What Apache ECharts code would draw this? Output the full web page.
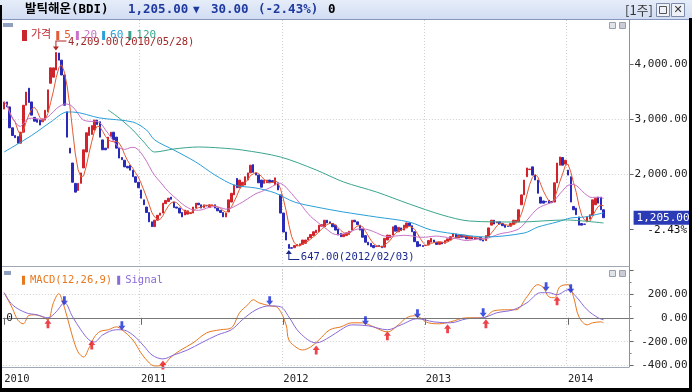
<!DOCTYPE html>
<html><head><meta charset="utf-8">
<script src="https://cdn.jsdelivr.net/npm/echarts@6/dist/echarts.min.js"></script>
<style>html,body{margin:0;padding:0;background:#fff}#c{width:692px;height:392px}</style>
</head><body><div id="c"></div>
<script>
// ---------- data ----------
const firstWeek = '2010-01-22';
const weekCount = 229;
const openPrices = [
3180,3310,3220,2840,2700,2680,2560,2760,3250,3560, 3310,3030,2990,2980,2950,2980,3130,3650,3760,3890,
4200,4070,3800,3130,2470,2200,1830,1700,1830,2110, 2400,2700,2720,2800,2980,2950,2620,2470,2470,2680,
2760,2670,2470,2300,2250,2140,2160,2070,1950,1850, 1710,1530,1400,1300,1130,1043,1160,1250,1290,1460,
1500,1580,1490,1400,1380,1300,1255,1270,1280,1290, 1380,1470,1440,1390,1430,1390,1420,1440,1380,1340,
1300,1220,1310,1490,1620,1920,1750,1790,1800,1890, 2020,2170,2020,1980,1890,1830,1840,1890,1880,1800,
1840,1620,1290,945,720,660,660,690,700,720, 740,800,840,880,930,950,1050,1040,1160,1130,
1100,1070,1000,920,860,880,900,980,1160,1130, 1070,1000,880,760,740,700,680,700,690,670,
800,840,890,1060,950,1020,980,1020,1110,1060, 950,770,720,700,698,710,760,800,760,720,
760,740,780,800,860,910,840,890,850,880, 820,860,810,830,850,800,790,860,1070,1160,
1110,1130,1100,1070,1050,1050,1080,1120,1130,1440, 1620,1950,2080,2130,1980,1890,1580,1510,1500,1520,
1500,1490,1840,2160,2300,2180,2070,1950,1410,1380, 1220,1100,1090,1130,1180,1250,1440,1580,1580,1350];
const closePrices = [
3310,3220,2840,2700,2660,2560,2760,3250,3490,3300, 3070,2960,2940,2890,3000,3160,3530,3930,3930,4209,
4070,3800,3250,2670,2380,1850,1670,1830,2020,2440, 2750,2850,2880,2980,2900,2670,2440,2440,2670,2760,
2620,2470,2290,2260,2130,2110,2070,1950,1850,1750, 1560,1440,1300,1130,1043,1160,1250,1290,1470,1520,
1560,1540,1390,1380,1290,1220,1345,1330,1300,1400, 1470,1440,1380,1440,1420,1440,1440,1380,1330,1300,
1220,1290,1530,1650,1800,1750,1890,1850,1950,2020, 2160,2030,1980,1840,1760,1890,1890,1840,1850,1930,
1710,1290,945,800,647,650,700,720,730,800, 800,850,900,950,980,1070,1080,1160,1110,1100,
1040,980,890,860,900,930,960,1160,1130,1080, 980,850,760,710,680,660,690,680,660,830,
890,890,1040,960,1030,970,1070,1110,1060,950, 770,680,690,680,700,790,830,760,720,760,
730,790,820,860,920,840,890,850,890,820, 860,820,850,825,800,780,880,1020,1160,1090,
1130,1090,1060,1030,1045,1100,1160,1160,1350,1620, 1890,2110,2090,1980,1890,1650,1470,1470,1490,1470,
1480,1840,2200,2310,2160,2250,1980,1490,1350,1260, 1070,1070,1085,1220,1260,1530,1560,1470,1350,1205];
const ma60Points = [[0,2400],[10,2700],[17,2945],[23,3127],[25,3127],[35,3018],[47,2945],[52,2800],[55,2618],[62,2436],[70,2218],[77,1982],[84,1800],[92,1745],[99,1655],[106,1491],[114,1400],[124,1309],[136,1218],[148,1127],[156,982],[168,891],[176,855],[190,927],[195,1036],[202,1127],[207,1200],[212,1218],[219,1295]];
const ma120Points = [[38,3164],[42,3018],[47,2800],[51,2582],[55,2400],[62,2455],[71,2491],[79,2473],[87,2436],[101,2309],[114,2073],[124,1855],[136,1673],[148,1455],[160,1255],[170,1145],[188,1127],[205,1164],[219,1109]];
const macdPoints = [[0,210],[3,80],[5,-20],[7,-50],[9,20],[11,25],[14,8],[16,-17],[18,126],[20,202],[21,160],[23,8],[25,-160],[27,-286],[29,-328],[31,-252],[33,-160],[35,-115],[38,-100],[41,-76],[43,-100],[47,-185],[50,-294],[53,-378],[55,-403],[58,-395],[61,-328],[64,-277],[69,-210],[74,-126],[79,-100],[83,-84],[86,42],[89,109],[91,151],[93,126],[97,100],[100,84],[103,-59],[104,-185],[107,-252],[109,-269],[112,-244],[115,-185],[119,-100],[123,-76],[127,-42],[131,-42],[135,-76],[140,-118],[144,-59],[147,0],[150,17],[155,-42],[159,-50],[163,-34],[169,0],[175,0],[179,59],[184,67],[187,67],[191,176],[195,277],[197,252],[199,176],[201,168],[203,260],[206,277],[208,176],[210,8],[213,-59],[215,-42],[218,-34],[219,-42]];
const signalPoints = [[0,210],[3,109],[8,42],[12,25],[16,0],[19,50],[22,126],[25,8],[28,-100],[31,-185],[33,-202],[36,-143],[41,-100],[43,-100],[47,-143],[51,-235],[54,-311],[58,-344],[62,-311],[67,-269],[72,-210],[78,-143],[83,-100],[87,-17],[92,67],[97,100],[101,92],[104,8],[108,-126],[114,-210],[119,-160],[123,-100],[127,-59],[133,-67],[140,-100],[145,-59],[151,-8],[157,-34],[163,-42],[169,-8],[175,0],[180,42],[186,67],[191,126],[196,210],[199,210],[202,193],[206,235],[209,176],[213,67],[217,0],[219,-17]];
const goldenCross = [[16,-50],[32,-227],[58,-395],[114,-269],[140,-151],[162,-92],[176,-50],[202,143]];
const deadCross = [[22,143],[43,-67],[97,143],[132,-25],[151,34],[175,42],[198,260],[207,244]];
const priceTickValues = [1000,2000,3000,4000];
const priceLabelValues = [2000,3000,4000];
const macdLabelValues = [200,0,-200,-400];
const peakPoint = {index:19, value:4209, text:'4,209.00(2010/05/28)'};
const lowPoint = {index:104, value:647, text:'647.00(2012/02/03)'};
const lastPrice = 1205, priceChange = 30, changePct = -2.43;
const titleName = '발틱해운(BDI)';
const periodLabel = '[1주]';

// ---------- build ----------
const MONO = "'DejaVu Sans Mono','Noto Sans CJK KR',monospace";
const dates = [];
{ const t0 = Date.parse(firstWeek + 'T00:00:00Z');
  for (let i = 0; i < weekCount; i++) dates.push(new Date(t0 + i*7*86400000).toISOString().slice(0,10)); }
const isYearStart = i => i === 0 || dates[i].slice(0,4) !== dates[i-1].slice(0,4);
const candles = openPrices.map((o,i)=>{const c=closePrices[i];return [o,c,Math.min(o,c),Math.max(o,c)];});
function movingAvg(n){return closePrices.map((c,i)=>{const s=Math.max(0,i-n+1);let t=0;for(let k=s;k<=i;k++)t+=closePrices[k];return +(t/(i-s+1)).toFixed(1);});}
const fmt = v => v.toLocaleString('en-US',{minimumFractionDigits:2,maximumFractionDigits:2});

const UP='#d0242c', DOWN='#2a2ab8';
const C5='#e45a34', C20='#c872c8', C60='#2b9fd9', C120='#3aa58e', CMACD='#e8781e', CSIG='#8a6ad8';
const gridLine = {color:'#cfcfcf', type:[1,2], width:1};
const TITLE_FONT = "bold 12.5px " + MONO;

const option = {
  animation:false, backgroundColor:'#fff',
  grid:[{left:2.8,right:62.4,top:20,height:264},{left:2.8,right:62.4,top:270,height:95.6}],
  legend:[
    {left:17,top:25,itemWidth:3,itemHeight:9,itemGap:5,icon:'rect',selectedMode:false,
     textStyle:{fontFamily:MONO,fontSize:11},
     data:[{name:'가격',itemStyle:{color:'#c0282d'},textStyle:{color:'#c0282d'}},
           {name:'5',itemStyle:{color:C5},textStyle:{color:C5}},
           {name:'20',itemStyle:{color:C20},textStyle:{color:C20}},
           {name:'60',itemStyle:{color:C60},textStyle:{color:C60}},
           {name:'120',itemStyle:{color:C120},textStyle:{color:C120}}]},
    {left:17,top:270,itemWidth:3,itemHeight:9,itemGap:5,icon:'rect',selectedMode:false,
     textStyle:{fontFamily:MONO,fontSize:10.5},
     data:[{name:'MACD(12,26,9)',itemStyle:{color:CMACD},textStyle:{color:CMACD}},
           {name:'Signal',itemStyle:{color:CSIG},textStyle:{color:CSIG}}]}
  ],
  xAxis:[
    {type:'category',gridIndex:0,data:dates,boundaryGap:true,axisLine:{show:false},axisTick:{show:false},axisLabel:{show:false},
     splitLine:{show:true,interval:(i)=>i>0&&isYearStart(i),lineStyle:gridLine}},
    {type:'category',gridIndex:1,data:dates,boundaryGap:true,axisLine:{show:false},
     axisTick:{show:true,interval:(i)=>isYearStart(i),alignWithLabel:true,length:7,lineStyle:{color:'#666'}},
     axisLabel:{interval:(i)=>isYearStart(i),formatter:v=>v.slice(0,4),align:'left',margin:8,fontFamily:MONO,fontSize:10.5,color:'#222'},
     splitLine:{show:true,interval:(i)=>i>0&&isYearStart(i),lineStyle:gridLine}}
  ],
  yAxis:[
    {type:'value',gridIndex:0,position:'right',min:0,max:4800,interval:1000,axisLine:{show:false},
     axisTick:{show:true,length:4,customValues:priceTickValues,lineStyle:{color:'#666'}},
     axisLabel:{customValues:priceLabelValues,formatter:v=>priceLabelValues.includes(v)?fmt(v):'',margin:58,align:'right',fontFamily:MONO,fontSize:11,color:'#222'},
     splitLine:{show:true,showMinLine:false,showMaxLine:false,lineStyle:gridLine}},
    {type:'value',gridIndex:1,position:'right',min:-400,max:400,interval:200,axisLine:{show:false},
     axisTick:{show:true,length:4,lineStyle:{color:'#666'}},
     minorTick:{show:true,splitNumber:2,length:2,lineStyle:{color:'#888'}},
     axisLabel:{formatter:v=>macdLabelValues.includes(v)?v.toFixed(2):'',margin:58,align:'right',fontFamily:MONO,fontSize:11,color:'#222'},
     splitLine:{show:true,showMaxLine:false,lineStyle:gridLine}}
  ],
  series:[
    {name:'가격',type:'candlestick',xAxisIndex:0,yAxisIndex:0,data:candles,barWidth:2,clip:false,
     itemStyle:{color:UP,color0:DOWN,borderColor:UP,borderColor0:DOWN,borderWidth:1},
     markPoint:{silent:true,data:[
       {coord:[peakPoint.index,peakPoint.value],symbol:'path://M3,0 L14,0 L14,1 L4,1 L4,6 L6.5,6 L3.5,10 L0.5,6 L3,6 Z',symbolSize:[13.5,10],symbolOffset:[3.5,-7],
        itemStyle:{color:'#b02525'},label:{show:true,position:[15,-3],formatter:peakPoint.text,color:'#a02828',fontFamily:MONO,fontSize:10.5}},
       {coord:[lowPoint.index,lowPoint.value],symbol:'path://M3.5,0 L6.5,4 L4,4 L4,9 L14,9 L14,10 L3,10 L3,4 L0.5,4 Z',symbolSize:[13.5,10],symbolOffset:[3.75,6.5],
        itemStyle:{color:'#1a2a8c'},label:{show:true,position:[15,2],formatter:lowPoint.text,color:'#1a2a8c',fontFamily:MONO,fontSize:10.5}}
     ]},
     markLine:{silent:true,symbol:['none','none'],data:[
       {yAxis:lastPrice,lineStyle:{color:'rgba(0,0,0,0)',width:0},
        label:{show:true,position:'end',distance:4,formatter:fmt(lastPrice),color:'#fff',backgroundColor:'#2b3bb5',padding:[2,3,1,3],fontFamily:MONO,fontSize:11}}]}},
    {name:'5',type:'line',xAxisIndex:0,yAxisIndex:0,data:movingAvg(5),showSymbol:false,lineStyle:{color:C5,width:1},itemStyle:{color:C5},z:3},
    {name:'20',type:'line',xAxisIndex:0,yAxisIndex:0,data:movingAvg(20),showSymbol:false,lineStyle:{color:C20,width:1},itemStyle:{color:C20},z:3},
    {name:'60',type:'line',xAxisIndex:0,yAxisIndex:0,data:ma60Points,smooth:0.3,showSymbol:false,lineStyle:{color:C60,width:1},itemStyle:{color:C60},z:3},
    {name:'120',type:'line',xAxisIndex:0,yAxisIndex:0,data:ma120Points,smooth:0.3,showSymbol:false,lineStyle:{color:C120,width:1},itemStyle:{color:C120},z:3},
    {name:'MACD(12,26,9)',type:'line',xAxisIndex:1,yAxisIndex:1,data:macdPoints,smooth:0.35,showSymbol:false,clip:false,lineStyle:{color:CMACD,width:1},itemStyle:{color:CMACD},
     markLine:{silent:true,symbol:['none','none'],label:{show:false},data:[{yAxis:0,lineStyle:{color:'#777',width:1,type:'solid'}}]},
     markPoint:{silent:true,data:[{coord:[2,0],symbol:'circle',symbolSize:0,label:{show:true,position:'inside',formatter:'0',color:'#222',fontFamily:MONO,fontSize:11}}]}},
    {name:'Signal',type:'line',xAxisIndex:1,yAxisIndex:1,data:signalPoints,smooth:0.35,showSymbol:false,clip:false,lineStyle:{color:CSIG,width:1},itemStyle:{color:CSIG}},
    {name:'golden',type:'scatter',xAxisIndex:1,yAxisIndex:1,data:goldenCross,clip:false,symbol:'path://M5,0 L10,5 L7,5 L7,10 L3,10 L3,5 L0,5 Z',symbolSize:[7,9],itemStyle:{color:'#e8141e'},z:5},
    {name:'dead',type:'scatter',xAxisIndex:1,yAxisIndex:1,data:deadCross,clip:false,symbol:'path://M3,0 L7,0 L7,5 L10,5 L5,10 L0,5 L3,5 Z',symbolSize:[7,9],itemStyle:{color:'#1428d8'},z:5}
  ],
  graphic:[
    {type:'rect',shape:{x:0,y:0,width:692,height:19},style:{fill:new echarts.graphic.LinearGradient(0,0,0,1,[{offset:0,color:'#e6edf9'},{offset:1,color:'#d2ddf3'}])},z:100},
    {type:'line',shape:{x1:0,y1:19.5,x2:692,y2:19.5},style:{stroke:'#8496bd',lineWidth:1},z:100},
    {type:'text',x:25,y:10,style:{text:titleName,font:TITLE_FONT,fill:'#000',textAlign:'left',textVerticalAlign:'middle',align:'left',verticalAlign:'middle'},z:101},
    {type:'text',x:128,y:10,style:{text:fmt(lastPrice),font:TITLE_FONT,fill:'#1f3a9e',textAlign:'left',textVerticalAlign:'middle',align:'left',verticalAlign:'middle'},z:101},
    {type:'text',x:193,y:10,style:{text:'▼',font:"bold 11px "+MONO,fill:'#1f3a9e',textAlign:'left',textVerticalAlign:'middle',align:'left',verticalAlign:'middle'},z:101},
    {type:'text',x:211,y:10,style:{text:fmt(priceChange),font:TITLE_FONT,fill:'#1f3a9e',textAlign:'left',textVerticalAlign:'middle',align:'left',verticalAlign:'middle'},z:101},
    {type:'text',x:258,y:10,style:{text:'('+changePct.toFixed(2)+'%)',font:TITLE_FONT,fill:'#1f3a9e',textAlign:'left',textVerticalAlign:'middle',align:'left',verticalAlign:'middle'},z:101},
    {type:'text',x:328,y:10,style:{text:'0',font:TITLE_FONT,fill:'#000',textAlign:'left',textVerticalAlign:'middle',align:'left',verticalAlign:'middle'},z:101},
    {type:'text',x:625,y:10,style:{text:periodLabel,font:"13px 'Noto Sans CJK KR'",fill:'#333',textAlign:'left',textVerticalAlign:'middle',align:'left',verticalAlign:'middle'},z:101},
    {type:'rect',shape:{x:656.5,y:3.5,width:13,height:13},style:{fill:'#eef1f7',stroke:'#7d8aa8',lineWidth:1},z:101},
    {type:'rect',shape:{x:659.5,y:6.5,width:7,height:7},style:{fill:'none',stroke:'#555',lineWidth:1},z:102},
    {type:'rect',shape:{x:671.5,y:3.5,width:13,height:13},style:{fill:'#eef1f7',stroke:'#7d8aa8',lineWidth:1},z:101},
    {type:'text',x:678,y:10,style:{text:'✕',font:"bold 11px 'DejaVu Sans'",fill:'#333',textAlign:'center',textVerticalAlign:'middle',align:'center',verticalAlign:'middle'},z:102},
    // panel lines
    {type:'line',shape:{x1:629.5,y1:19,x2:629.5,y2:367},style:{stroke:'#8a92a4',lineWidth:1},z:50},
    {type:'line',shape:{x1:2,y1:266.5,x2:629.5,y2:266.5},style:{stroke:'#a0a8b8',lineWidth:1},z:50},
    {type:'line',shape:{x1:2,y1:367.5,x2:629.5,y2:367.5},style:{stroke:'#a0a8b8',lineWidth:1},z:50},
    // small panel marks
    {type:'rect',shape:{x:3,y:23,width:10,height:4},style:{fill:'#8fa0bf'},z:50},
    {type:'rect',shape:{x:4,y:271,width:7,height:4},style:{fill:'#8fa0bf'},z:50},
    {type:'rect',shape:{x:609.5,y:22.5,width:6,height:6},style:{fill:'#e0e3ea',stroke:'#9aa0ae',lineWidth:1},z:50},
    {type:'rect',shape:{x:619.5,y:22.5,width:6,height:6},style:{fill:'#c8ccd6',stroke:'#9aa0ae',lineWidth:1},z:50},
    {type:'rect',shape:{x:609.5,y:270.5,width:6,height:6},style:{fill:'#e0e3ea',stroke:'#9aa0ae',lineWidth:1},z:50},
    {type:'rect',shape:{x:619.5,y:270.5,width:6,height:6},style:{fill:'#c8ccd6',stroke:'#9aa0ae',lineWidth:1},z:50},
    {type:'text',x:687,y:230,style:{text:changePct.toFixed(2)+'%',font:"11px "+MONO,fill:'#111',textAlign:'right',textVerticalAlign:'middle',align:'right',verticalAlign:'middle'},z:50},
    // outer black frame
    {type:'rect',shape:{x:0,y:5,width:2,height:387},style:{fill:'#000'},z:110},
    {type:'rect',shape:{x:689,y:18,width:3,height:374},style:{fill:'#000'},z:110},
    {type:'rect',shape:{x:0,y:388,width:692,height:4},style:{fill:'#000'},z:110}
  ]
};
const chart = echarts.init(document.getElementById('c'),null,{renderer:'canvas',width:692,height:392});
chart.setOption(option);
</script></body></html>
